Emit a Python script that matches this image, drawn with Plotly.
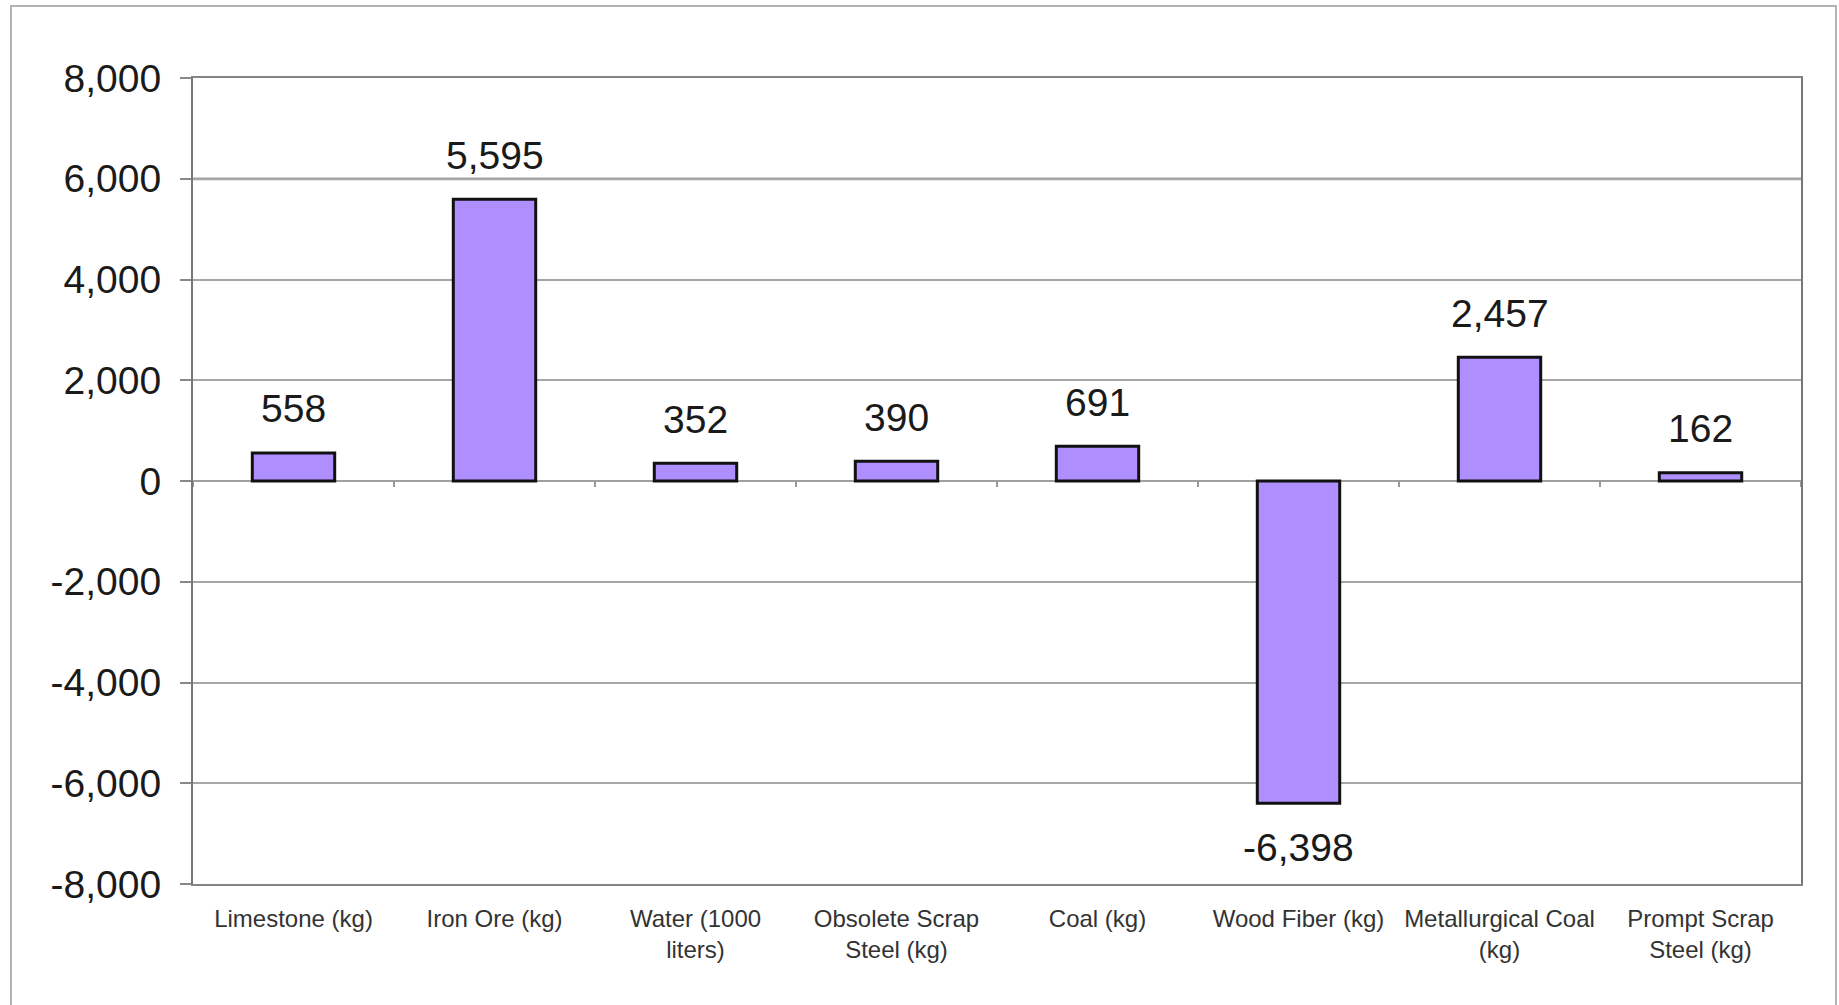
import plotly.graph_objects as go

# Net material balance per category
categories = [
    "Limestone (kg)",
    "Iron Ore (kg)",
    "Water (1000<br>liters)",
    "Obsolete Scrap<br>Steel (kg)",
    "Coal (kg)",
    "Wood Fiber (kg)",
    "Metallurgical Coal<br>(kg)",
    "Prompt Scrap<br>Steel (kg)",
]
values = [558, 5595, 352, 390, 691, -6398, 2457, 162]
y_ticks = [-8000, -6000, -4000, -2000, 0, 2000, 4000, 6000, 8000]

W, H = 1839, 1005
M_L, M_R, M_T, M_B = 193, 38, 78, 121
plot_w = W - M_L - M_R
plot_h = H - M_T - M_B

BAR_FILL = "#AF8EFF"
FONT = "Liberation Sans, Arial, sans-serif"

idx = list(range(len(categories)))

fig = go.Figure(
    go.Bar(
        x=idx,
        y=values,
        width=0.41,
        marker=dict(color=BAR_FILL, line=dict(color="#111111", width=3)),
        hoverinfo="skip",
    )
)

# Value labels above positive bars, below negative ones
for i, v in zip(idx, values):
    fig.add_annotation(
        x=i, y=v, xref="x", yref="y",
        text=f"{v:,}",
        showarrow=False,
        yanchor="middle",
        yshift=44 if v >= 0 else -44,
        font=dict(family=FONT, size=39, color="#1a1a1a"),
    )

# Small ticks on the zero line between categories
for k in range(len(categories) + 1):
    fig.add_shape(
        type="line", xref="x", yref="y",
        x0=k - 0.5, x1=k - 0.5,
        ysizemode="pixel", yanchor=0, y0=0, y1=-6,
        line=dict(color="#999999", width=2),
    )

# The top-but-one gridline is drawn softer and wider
fig.add_shape(
    type="line", xref="paper", yref="y",
    x0=0, x1=1, y0=y_ticks[-2], y1=y_ticks[-2],
    line=dict(color="#cdcdcd", width=3.5),
    layer="between",
)

# Outer chart frame
def px_x(px):
    return (px - M_L) / plot_w

def px_y(py):
    return (H - M_B - py) / plot_h

fig.add_shape(
    type="rect", xref="paper", yref="paper",
    x0=px_x(11), x1=px_x(1836), y0=px_y(1030), y1=px_y(6),
    line=dict(color="#b3b3b3", width=2),
    fillcolor="rgba(0,0,0,0)",
    layer="below",
)

fig.update_layout(
    width=W, height=H,
    margin=dict(l=M_L, r=M_R, t=M_T, b=M_B, pad=0),
    paper_bgcolor="white",
    plot_bgcolor="white",
    showlegend=False,
    font=dict(family=FONT),
)

fig.update_xaxes(
    range=[-0.5, len(categories) - 0.5],
    tickmode="array",
    tickvals=idx,
    ticktext=categories,
    ticks="",
    ticklabelstandoff=12,
    tickfont=dict(family=FONT, size=24, color="#333333"),
    showgrid=False,
    zeroline=False,
    showline=True,
    mirror=True,
    linecolor="#858585",
    linewidth=2,
)

fig.update_yaxes(
    range=[-8000, 8000],
    tickmode="array",
    tickvals=y_ticks,
    ticktext=[f"{t:,}" for t in y_ticks],
    ticks="outside",
    ticklen=11,
    tickwidth=2,
    tickcolor="#888888",
    ticklabelstandoff=11,
    tickfont=dict(family=FONT, size=39, color="#1a1a1a"),
    showgrid=True,
    gridcolor="#a6a6a6",
    gridwidth=1.5,
    zeroline=True,
    zerolinecolor="#a0a0a0",
    zerolinewidth=2,
    showline=True,
    mirror=True,
    linecolor="#777777",
    linewidth=2,
)

fig.write_html("out.html")
